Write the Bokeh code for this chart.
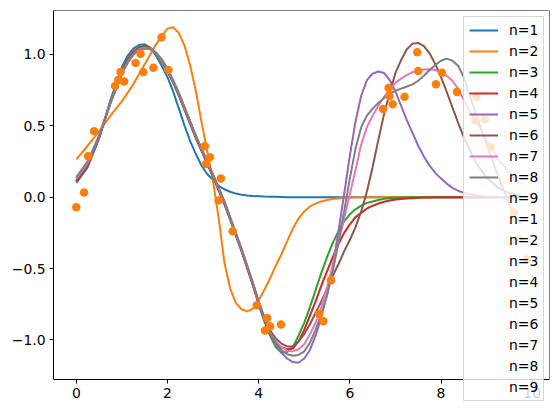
from bokeh.plotting import figure
from bokeh.models import Legend, LegendItem, FixedTicker, Range1d, ColumnDataSource, LinearAxis
from bokeh.embed import file_html
from bokeh.resources import INLINE

# ---------------- data ----------------
x_grid = [0.0, 0.25, 0.5, 0.75, 1.0,
          1.125, 1.25, 1.375, 1.5, 1.625, 1.75, 1.875, 2.0,
          2.125, 2.25, 2.375, 2.5, 2.625, 2.75, 2.875, 3.0,
          3.125, 3.25, 3.375, 3.5, 3.625, 3.75, 3.875, 4.0,
          4.125, 4.25, 4.375, 4.5, 4.625, 4.75, 4.875, 5.0,
          5.125, 5.25, 5.375, 5.5, 5.625, 5.75, 5.875, 6.0,
          6.125, 6.25, 6.375, 6.5, 6.625, 6.75, 6.875, 7.0,
          7.125, 7.25, 7.375, 7.5, 7.625, 7.75, 7.875, 8.0,
          8.125, 8.25, 8.375, 8.5,
          8.75, 9.0, 9.25, 9.5, 9.75]

fit_n1 = [0.10, 0.21, 0.41, 0.68, 0.91, 0.99, 1.04, 1.065, 1.07, 1.045,
          0.99, 0.92, 0.84, 0.74, 0.62, 0.50, 0.39, 0.30, 0.22, 0.16,
          0.12, 0.08, 0.055, 0.038, 0.025, 0.017, 0.012, 0.008, 0.006, 0.004,
          0.003, 0.002, 0.001, 0.0, 0.0, 0.0, 0.0, 0.0, 0.0, 0.0,
          0.0, 0.0, 0.0, 0.0, 0.0, 0.0, 0.0, 0.0, 0.0, 0.0,
          0.0, 0.0, 0.0, 0.0, 0.0, 0.0, 0.0, 0.0, 0.0, 0.0,
          0.0, 0.0, 0.0, 0.0, 0.0, 0.0, 0.0, 0.0, 0.0, 0.0]
fit_n2 = [0.264, 0.36, 0.46, 0.57, 0.67, 0.73, 0.79, 0.86, 0.93, 1.00,
          1.07, 1.13, 1.18, 1.19, 1.15, 1.06, 0.92, 0.74, 0.52, 0.32,
          0.11, -0.15, -0.46, -0.64, -0.74, -0.785, -0.80, -0.78, -0.72, -0.65,
          -0.57, -0.48, -0.40, -0.31, -0.22, -0.15, -0.10, -0.065, -0.045, -0.03,
          -0.02, -0.013, -0.008, -0.005, -0.003, -0.002, -0.001, 0.0, 0.0, 0.0,
          0.0, 0.0, 0.0, 0.0, 0.0, 0.0, 0.0, 0.0, 0.0, 0.0,
          0.0, 0.0, 0.0, 0.0, 0.0, 0.0, 0.0, 0.0, 0.0, 0.0]
fit_n3 = [0.11, 0.22, 0.42, 0.67, 0.89, 0.965, 1.02, 1.05, 1.06, 1.045,
          1.005, 0.95, 0.88, 0.80, 0.71, 0.61, 0.51, 0.41, 0.32, 0.23,
          0.14, 0.045, -0.05, -0.16, -0.27, -0.38, -0.50, -0.62, -0.75, -0.87,
          -0.97, -1.05, -1.09, -1.085, -1.05, -0.97, -0.88, -0.77, -0.65, -0.53,
          -0.42, -0.32, -0.24, -0.17, -0.12, -0.085, -0.06, -0.04, -0.03, -0.02,
          -0.012, -0.008, -0.005, -0.003, -0.002, -0.001, 0.0, 0.0, 0.0, 0.0,
          0.0, 0.0, 0.0, 0.0, 0.0, 0.0, 0.0, 0.0, 0.0, 0.0]
fit_n4 = [0.11, 0.22, 0.42, 0.66, 0.88, 0.96, 1.015, 1.045, 1.055, 1.045,
          1.01, 0.955, 0.885, 0.805, 0.715, 0.615, 0.515, 0.415, 0.325, 0.235,
          0.145, 0.05, -0.045, -0.155, -0.265, -0.375, -0.495, -0.615, -0.745, -0.86,
          -0.96, -1.02, -1.05, -1.065, -1.06, -1.01, -0.93, -0.83, -0.73, -0.62,
          -0.52, -0.42, -0.33, -0.25, -0.19, -0.14, -0.11, -0.08, -0.06, -0.045,
          -0.032, -0.024, -0.017, -0.013, -0.009, -0.007, -0.005, -0.003, -0.002, -0.001,
          0.0, 0.0, 0.0, 0.0, 0.0, 0.0, 0.0, 0.0, 0.0, 0.0]
fit_n5 = [0.13, 0.24, 0.43, 0.66, 0.87, 0.945, 1.00, 1.035, 1.045, 1.04,
          1.01, 0.96, 0.895, 0.815, 0.725, 0.625, 0.525, 0.425, 0.335, 0.245,
          0.155, 0.06, -0.035, -0.145, -0.255, -0.365, -0.485, -0.605, -0.735, -0.845,
          -0.95, -1.03, -1.09, -1.13, -1.155, -1.16, -1.13, -1.07, -0.97, -0.84,
          -0.68, -0.48, -0.24, 0.02, 0.29, 0.53, 0.71, 0.82, 0.865, 0.88,
          0.87, 0.82, 0.74, 0.64, 0.54, 0.45, 0.36, 0.285, 0.22, 0.17,
          0.13, 0.095, 0.065, 0.045, 0.03, 0.013, 0.005, 0.002, 0.001, 0.0]
fit_n6 = [0.12, 0.23, 0.42, 0.66, 0.88, 0.955, 1.01, 1.04, 1.05, 1.04,
          1.01, 0.96, 0.89, 0.81, 0.72, 0.62, 0.52, 0.42, 0.33, 0.24,
          0.15, 0.055, -0.04, -0.15, -0.26, -0.37, -0.49, -0.61, -0.74, -0.85,
          -0.93, -0.99, -1.025, -1.045, -1.045, -1.01, -0.96, -0.89, -0.81, -0.73,
          -0.64, -0.55, -0.47, -0.38, -0.30, -0.21, -0.10, 0.04, 0.21, 0.40,
          0.58, 0.73, 0.87, 0.96, 1.035, 1.075, 1.08, 1.057, 1.007, 0.933,
          0.841, 0.738, 0.629, 0.521, 0.42, 0.25, 0.135, 0.065, 0.028, 0.011]
fit_n7 = [0.13, 0.24, 0.43, 0.66, 0.87, 0.945, 1.00, 1.035, 1.045, 1.04,
          1.01, 0.96, 0.895, 0.815, 0.725, 0.625, 0.525, 0.425, 0.335, 0.245,
          0.155, 0.06, -0.035, -0.145, -0.255, -0.365, -0.485, -0.605, -0.735, -0.845,
          -0.95, -1.01, -1.05, -1.075, -1.08, -1.065, -1.03, -0.96, -0.88, -0.77,
          -0.63, -0.48, -0.32, -0.15, 0.02, 0.19, 0.37, 0.49, 0.57, 0.64,
          0.70, 0.755, 0.80, 0.83, 0.855, 0.875, 0.887, 0.894, 0.895, 0.89,
          0.875, 0.85, 0.815, 0.76, 0.68, 0.54, 0.40, 0.27, 0.17, 0.09]
fit_n8 = [0.14, 0.25, 0.43, 0.66, 0.86, 0.94, 0.995, 1.03, 1.04, 1.035,
          1.01, 0.965, 0.90, 0.82, 0.73, 0.63, 0.53, 0.43, 0.34, 0.25,
          0.16, 0.065, -0.03, -0.14, -0.25, -0.36, -0.48, -0.60, -0.73, -0.84,
          -0.95, -1.02, -1.07, -1.10, -1.11, -1.105, -1.08, -1.02, -0.93, -0.82,
          -0.69, -0.52, -0.32, -0.10, 0.13, 0.34, 0.49, 0.57, 0.62, 0.66,
          0.695, 0.725, 0.745, 0.76, 0.775, 0.79, 0.815, 0.85, 0.89, 0.925,
          0.955, 0.97, 0.955, 0.92, 0.84, 0.60, 0.37, 0.15, -0.05, -0.19]
fit_n9 = []                            # no visible curve
second_set = [[], [], [], [], [], [], [], [], []]   # second n=1..9: legend entries only

obs_x = [0.00, 0.17, 0.26, 0.39, 0.85, 0.92, 0.97, 1.05, 1.30, 1.41,
         1.47, 1.69, 1.87, 2.02, 2.82, 2.85, 2.93, 3.12, 3.17, 3.43,
         3.96, 4.14, 4.19, 4.25, 4.49, 5.33, 5.42, 5.59, 6.73, 6.85,
         6.87, 6.94, 7.20, 7.48, 7.50, 7.89, 8.02, 8.35, 8.78, 8.75,
         8.96, 9.09, 9.60, 9.71, 9.89]
obs_y = [-0.07, 0.033, 0.287, 0.462, 0.778, 0.82, 0.877, 0.81, 0.94, 1.005,
         0.876, 0.906, 1.12, 0.89, 0.357, 0.233, 0.28, -0.023, 0.131, -0.238,
         -0.757, -0.934, -0.846, -0.904, -0.892, -0.818, -0.869, -0.582, 0.617, 0.764,
         0.708, 0.65, 0.703, 1.015, 0.883, 0.79, 0.871, 0.736, 0.702, 0.538,
         0.544, 0.35, -0.107, -0.296, -0.437]

legend_labels = ["n=1", "n=2", "n=3", "n=4", "n=5", "n=6", "n=7", "n=8", "n=9",
                 "n=1", "n=2", "n=3", "n=4", "n=5", "n=6", "n=7", "n=8", "n=9"]
x_ticks = [0, 2, 4, 6, 8, 10]
x_tick_labels = ["0", "2", "4", "6", "8", "10"]
y_ticks = [-1.0, -0.5, 0.0, 0.5, 1.0]
y_tick_labels = ["\u22121.0", "\u22120.5", "0.0", "0.5", "1.0"]

tab10 = ["#1f77b4", "#ff7f0e", "#2ca02c", "#d62728", "#9467bd",
         "#8c564b", "#e377c2", "#7f7f7f", "#bcbd22", "#17becf"]

# axes limits (data units)
X0, X1 = -0.5, 10.38
Y0, Y1 = -1.277, 1.307
Y_CANVAS_BOTTOM = -1.515   # frame reaches to the canvas bottom so the legend can overhang

# ---------------- figure ----------------
p = figure(width=559, height=413, output_backend="svg", toolbar_location=None,
           x_range=Range1d(X0, X1), y_range=Range1d(Y_CANVAS_BOTTOM, Y1),
           x_axis_location=None, y_axis_location=None,
           min_border_left=53, min_border_right=10, min_border_top=10,
           min_border_bottom=0)
p.xgrid.visible = False
p.ygrid.visible = False
p.outline_line_color = None
p.background_fill_color = "white"
p.border_fill_color = "white"

first_set = [fit_n1, fit_n2, fit_n3, fit_n4, fit_n5, fit_n6, fit_n7, fit_n8, fit_n9]
all_series = first_set + second_set

items = []
for i, ys in enumerate(all_series):
    xs = x_grid[:len(ys)]
    src = ColumnDataSource(data=dict(x=xs, y=ys))
    r = p.line("x", "y", source=src, line_color=tab10[i % 10], line_width=2)
    items.append(LegendItem(label=legend_labels[i], renderers=[r]))

p.scatter(obs_x, obs_y, size=8.5, fill_color="#ff7f0e", line_color=None)


def style_axis(ax, labels=True):
    ax.major_tick_out = 4 if labels else 0
    ax.major_tick_in = 0
    ax.minor_tick_out = 0
    ax.minor_tick_in = 0
    ax.major_label_text_font = "DejaVu Sans"
    ax.major_label_text_font_size = "13.9px"
    ax.major_label_text_color = "black"
    ax.axis_line_color = "black"
    ax.axis_line_width = 1
    ax.major_tick_line_color = "black"
    ax.major_label_standoff = 4


xaxis = LinearAxis(fixed_location=Y0, bounds=(X0, X1), ticker=FixedTicker(ticks=x_ticks))
xaxis.major_label_overrides = {t: s for t, s in zip(x_ticks, x_tick_labels)}
style_axis(xaxis)
p.add_layout(xaxis, "below")

yaxis = LinearAxis(bounds=(Y0, Y1), ticker=FixedTicker(ticks=y_ticks))
yaxis.major_label_overrides = {t: s for t, s in zip(y_ticks, y_tick_labels)}
style_axis(yaxis)
p.add_layout(yaxis, "left")

top_spine = LinearAxis(fixed_location=Y1, bounds=(X0, X1), ticker=FixedTicker(ticks=[]))
style_axis(top_spine, labels=False)
p.add_layout(top_spine, "above")

right_spine = LinearAxis(fixed_location=X1, bounds=(Y0, Y1), ticker=FixedTicker(ticks=[]))
style_axis(right_spine, labels=False)
p.add_layout(right_spine, "right")

legend = Legend(items=items, location=(410, 12))
legend.label_text_font = "DejaVu Sans"
legend.label_text_font_size = "13.9px"
legend.label_text_line_height = 1.14
legend.label_text_color = "black"
legend.glyph_width = 29
legend.glyph_height = 14
legend.label_height = 14
legend.label_standoff = 11
legend.padding = 5
legend.spacing = 5
legend.margin = 0
legend.border_line_color = "#cccccc"
legend.border_line_alpha = 0.8
legend.border_line_width = 1
legend.background_fill_color = "white"
legend.background_fill_alpha = 0.8
p.add_layout(legend)

open("out.html", "w").write(file_html(p, INLINE))
